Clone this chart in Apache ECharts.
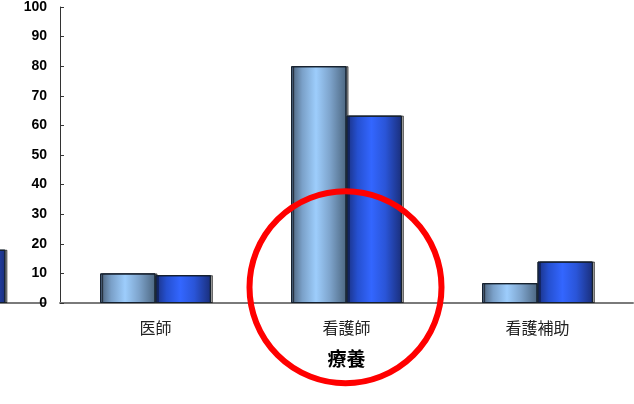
<!DOCTYPE html>
<html>
<head>
<meta charset="utf-8">
<script src="https://cdn.jsdelivr.net/npm/echarts@6/dist/echarts.min.js"></script>
<style>
  html, body { margin: 0; padding: 0; background: #fff; }
  #chart { width: 634px; height: 404px; }
</style>
</head>
<body>
<div id="chart"></div>
<script>
// Staff categories and the two series per category (%)
const categories = ['医師', '看護師', '看護補助'];
const seriesLight = [10, 80, 6.7];
const seriesDark = [9.4, 63.3, 14];

// Neighbouring panel on the left (only its last dark bar reaches into view)
const prevCategories = ['医師', '看護師', '看護補助'];
const prevLight = [null, null, null];
const prevDark = [null, null, 18];

// Group label under the category axis
const groupName = '療養';
// Category that gets the red highlight ring
const highlightCategory = '看護師';

const yTicks = { min: 0, max: 100, interval: 10 };

const lightFill = {
  type: 'linear', x: 0, y: 0, x2: 1, y2: 0,
  colorStops: [
    { offset: 0, color: '#4a5f78' },
    { offset: 0.2, color: '#7aa0c8' },
    { offset: 0.45, color: '#9dcdfc' },
    { offset: 0.7, color: '#7ea4cc' },
    { offset: 1, color: '#4c6680' }
  ]
};
const darkFill = {
  type: 'linear', x: 0, y: 0, x2: 1, y2: 0,
  colorStops: [
    { offset: 0, color: '#1a3080' },
    { offset: 0.2, color: '#2550d0' },
    { offset: 0.45, color: '#3366ff' },
    { offset: 0.7, color: '#2a55d8' },
    { offset: 1, color: '#1a2e7a' }
  ]
};
const barBorder = { borderColor: '#15202e', borderWidth: 1, shadowColor: 'rgba(0,0,0,0.35)', shadowOffsetX: 2, shadowOffsetY: 0, shadowBlur: 0 };

const chart = echarts.init(document.getElementById('chart'), null, { renderer: 'canvas' });

const option = {
  animation: false,
  backgroundColor: '#ffffff',
  grid: [
    { left: -527.5, right: 588.5, top: 7, bottom: 101, containLabel: false, outerBoundsMode: 'none' },
    { left: 60, right: 1, top: 7, bottom: 101, containLabel: false, outerBoundsMode: 'none' }
  ],
  xAxis: [
    {
      type: 'category', gridIndex: 0, data: prevCategories,
      axisLine: { show: true, lineStyle: { color: '#7a7a7a', width: 2 } },
      axisTick: { show: false }, axisLabel: { show: false }
    },
    {
      type: 'category', gridIndex: 1, data: categories,
      axisLine: { show: true, lineStyle: { color: '#7a7a7a', width: 2 } },
      axisTick: { show: false },
      axisLabel: {
        margin: 17, fontSize: 16, color: '#222',
        fontFamily: '"Noto Sans CJK JP", sans-serif'
      },
      name: groupName, nameLocation: 'middle', nameGap: 46,
      nameTextStyle: {
        fontSize: 19, fontWeight: 'bold', color: '#000',
        fontFamily: '"Noto Sans CJK JP", sans-serif'
      }
    }
  ],
  yAxis: [
    {
      type: 'value', gridIndex: 0, min: yTicks.min, max: yTicks.max, interval: yTicks.interval,
      show: false, splitLine: { show: false }
    },
    {
      type: 'value', gridIndex: 1, min: yTicks.min, max: yTicks.max, interval: yTicks.interval,
      axisLine: { show: true, lineStyle: { color: '#333', width: 1 } },
      axisTick: { show: true, inside: true, length: 4, lineStyle: { color: '#333' } },
      splitLine: { show: false },
      axisLabel: {
        margin: 13, fontSize: 14, fontWeight: 'bold', color: '#000',
        fontFamily: '"Liberation Sans", Arial, sans-serif'
      }
    }
  ],
  series: [
    {
      type: 'bar', xAxisIndex: 0, yAxisIndex: 0, data: prevLight,
      barGap: '0%', barCategoryGap: '42%',
      itemStyle: Object.assign({ color: lightFill }, barBorder)
    },
    {
      type: 'bar', xAxisIndex: 0, yAxisIndex: 0, data: prevDark,
      barGap: '0%', barCategoryGap: '42%',
      itemStyle: Object.assign({ color: darkFill }, barBorder)
    },
    {
      type: 'bar', xAxisIndex: 1, yAxisIndex: 1, data: seriesLight,
      barGap: '0%', barCategoryGap: '42%',
      itemStyle: Object.assign({ color: lightFill }, barBorder)
    },
    {
      type: 'bar', xAxisIndex: 1, yAxisIndex: 1, data: seriesDark,
      barGap: '0%', barCategoryGap: '42%',
      itemStyle: Object.assign({ color: darkFill }, barBorder)
    }
  ]
};

chart.setOption(option);

// Red ring around the highlighted category, placed from the axis scales
const ringCenter = chart.convertToPixel({ xAxisIndex: 1, yAxisIndex: 1 }, [highlightCategory, 5.3]);
chart.setOption({
  graphic: [{
    type: 'circle',
    shape: { cx: ringCenter[0] - 1, cy: ringCenter[1], r: 96 },
    style: { fill: 'none', stroke: '#ff0000', lineWidth: 6 },
    z: 100
  }]
});
</script>
</body>
</html>
